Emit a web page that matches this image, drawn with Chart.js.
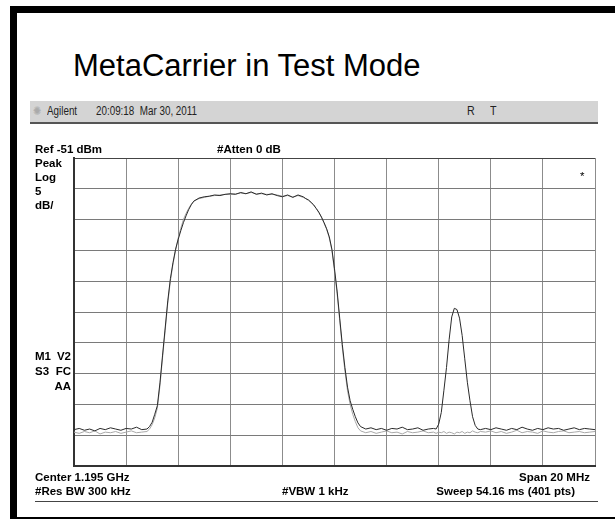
<!DOCTYPE html>
<html>
<head>
<meta charset="utf-8">
<script src="https://cdn.jsdelivr.net/npm/chart.js@4"></script>
<style>
  html, body { margin: 0; padding: 0; background: #fff; }
  #page { position: relative; width: 615px; height: 519px; overflow: hidden; }
  #frame { position: absolute; left: 10px; top: 6px; width: 620px; height: 504px;
           border-left: 7px solid #000; border-top: 7px solid #000; border-bottom: 3px solid #000; }
  #chart { position: absolute; left: 0; top: 0; }
  .t { position: absolute; white-space: nowrap; color: #000; }
  .lbl { font-family: "Liberation Sans", Arial, sans-serif; font-weight: bold; font-size: 11.5px; line-height: 13px; }
  #title { left: 73px; top: 48px; font-family: "Liberation Sans", Arial, sans-serif; font-size: 31px; line-height: 36px; }
  #bar { position: absolute; left: 30px; top: 101px; width: 568px; height: 21px; background: #d4d4d4;
         border-bottom: 2px solid #555; }
  .hdr { font-family: "Liberation Sans", Arial, sans-serif; font-size: 12px; line-height: 12px; color: #222;
         transform: scaleX(0.82); transform-origin: left top; }
  #foot { position: absolute; left: 35px; top: 501px; width: 563px; height: 0; border-top: 1px solid #444; }
</style>
</head>
<body>
<div id="page">
  <div id="frame"></div>
  <div class="t" id="title">MetaCarrier in Test Mode</div>
  <div id="bar"></div>
  <div class="t hdr" style="left:33px; top:105px; color:#aaa;">✺</div>
  <div class="t hdr" style="left:47px; top:105px;">Agilent</div>
  <div class="t hdr" style="left:96px; top:105px;">20:09:18&nbsp; Mar 30, 2011</div>
  <div class="t hdr" style="left:467px; top:105px; font-size:13px;">R</div>
  <div class="t hdr" style="left:490px; top:105px; font-size:13px;">T</div>
  <canvas id="chart" width="615" height="519"></canvas>
  <div class="t lbl" style="left:35px; top:143px;">Ref -51 dBm</div>
  <div class="t lbl" style="left:217px; top:143px;">#Atten 0 dB</div>
  <div class="t lbl" style="left:35px; top:157px;">Peak</div>
  <div class="t lbl" style="left:35px; top:171px;">Log</div>
  <div class="t lbl" style="left:35px; top:185px;">5</div>
  <div class="t lbl" style="left:35px; top:199px;">dB/</div>
  <div class="t lbl" style="left:580px; top:170px; font-weight:normal;">*</div>
  <div class="t lbl" style="left:35px; top:350px;">M1</div>
  <div class="t lbl" style="right:544px; top:350px;">V2</div>
  <div class="t lbl" style="left:35px; top:365px;">S3</div>
  <div class="t lbl" style="right:544px; top:365px;">FC</div>
  <div class="t lbl" style="right:544px; top:380px;">AA</div>
  <div class="t lbl" style="left:35px; top:471px;">Center 1.195 GHz</div>
  <div class="t lbl" style="right:25px; top:471px;">Span 20 MHz</div>
  <div class="t lbl" style="left:35px; top:485px;">#Res BW 300 kHz</div>
  <div class="t lbl" style="left:282px; top:485px;">#VBW 1 kHz</div>
  <div class="t lbl" style="right:40px; top:485px;">Sweep 54.16 ms (401 pts)</div>
  <div id="foot"></div>
</div>
<script>
// frequency points (MHz), span 1185..1205
const freq = [
  1185.0,1185.2,1185.4,1185.6,1185.8,1186.0,1186.2,1186.4,1186.6,1186.8,1187.0,1187.2,1187.4,1187.6,1187.8,
  1187.9,1188.0,1188.1,1188.2,1188.3,1188.4,1188.5,1188.6,1188.7,1188.8,1188.9,1189.0,1189.1,1189.2,1189.3,1189.4,1189.5,1189.6,1189.8,
  1190.0,1190.2,1190.4,1190.6,1190.8,1191.0,1191.2,1191.4,1191.6,1191.8,1192.0,1192.2,1192.4,1192.6,1192.8,1193.0,1193.2,1193.4,1193.6,
  1193.8,1193.9,1194.0,1194.1,1194.2,1194.3,1194.4,1194.5,1194.6,1194.7,1194.8,1194.9,1195.0,1195.1,1195.2,1195.3,1195.4,1195.5,1195.6,1195.7,1195.8,1195.9,1196.0,
  1196.2,1196.4,1196.6,1196.8,1197.0,1197.2,1197.4,1197.6,1197.8,1198.0,1198.2,1198.4,1198.6,1198.8,
  1198.9,1199.0,1199.1,1199.2,1199.3,1199.4,1199.5,1199.6,1199.7,1199.8,1199.9,1200.0,1200.1,1200.2,1200.3,1200.4,1200.5,1200.6,
  1200.8,1201.0,1201.2,1201.4,1201.6,1201.8,1202.0,1202.2,1202.4,1202.6,1202.8,1203.0,1203.2,1203.4,1203.6,1203.8,1204.0,1204.2,1204.4,1204.6,1204.8,1205.0
];

// trace 1 (dark, dBm)
const trace1 = [
  -95.1,-94.9,-95.2,-95.0,-95.3,-94.9,-95.1,-94.8,-95.0,-95.2,-94.9,-95.0,-94.7,-95.1,-95.0,
  -94.6,-93.9,-92.6,-91.2,-87.5,-83.0,-78.6,-74.2,-70.6,-68.0,-65.8,-64.2,-62.8,-61.5,-60.4,-59.4,-58.6,-58.0,-57.5,
  -57.3,-57.2,-57.0,-57.1,-56.9,-56.8,-56.9,-56.6,-56.8,-56.5,-56.9,-56.7,-57.0,-56.8,-57.1,-57.3,-57.0,-57.4,-57.0,
  -57.3,-57.6,-57.8,-58.2,-58.6,-59.2,-59.8,-60.6,-61.5,-62.5,-63.8,-65.8,-69.0,-72.6,-77.0,-81.3,-85.0,-88.2,-90.4,-91.8,-93.0,-94.0,-94.6,
  -95.0,-94.8,-95.1,-94.9,-95.2,-94.9,-95.0,-94.7,-95.1,-95.0,-94.8,-95.2,-95.0,-94.9,
  -95.0,-94.2,-92.3,-88.7,-85.0,-80.5,-76.8,-75.4,-75.6,-77.0,-79.8,-83.6,-87.4,-90.4,-93.0,-94.4,-95.0,-95.1,
  -94.9,-95.1,-94.8,-95.0,-95.2,-94.9,-95.1,-94.7,-95.0,-95.2,-94.9,-95.1,-94.8,-95.0,-94.9,-95.2,-95.0,-94.8,-95.1,-94.9,-95.0,-95.1
];

// trace 2 (light grey, dBm)
const trace2 = [
  -95.5,-95.7,-95.4,-95.6,-95.3,-95.8,-95.5,-95.6,-95.4,-95.7,-95.5,-95.3,-95.6,-95.5,-95.4,
  -95.0,-94.3,-93.2,-91.6,-88.0,-83.4,-79.0,-74.6,-71.0,-68.2,-66.0,-64.0,-62.4,-61.0,-60.0,-59.2,-58.5,-58.0,-57.6,
  -57.4,-57.2,-57.1,-57.0,-56.9,-56.9,-56.8,-56.7,-56.8,-56.6,-56.8,-56.8,-56.9,-56.9,-57.0,-57.2,-57.1,-57.3,-57.1,
  -57.4,-57.6,-57.9,-58.2,-58.7,-59.2,-59.9,-60.6,-61.6,-62.6,-64.0,-66.0,-69.4,-73.0,-77.4,-81.8,-85.6,-88.8,-91.0,-92.6,-93.8,-94.8,-95.3,
  -95.6,-95.4,-95.7,-95.5,-95.3,-95.6,-95.5,-95.8,-95.4,-95.6,-95.5,-95.3,-95.6,-95.5,
  -95.7,-95.5,-95.6,-95.4,-95.7,-95.5,-95.6,-95.8,-95.5,-95.6,-95.4,-95.7,-95.5,-95.6,-95.3,-95.5,-95.6,-95.4,
  -95.5,-95.3,-95.6,-95.4,-95.7,-95.5,-95.2,-95.6,-95.4,-95.5,-95.7,-95.3,-95.5,-95.6,-95.4,-95.3,-95.6,-95.5,-95.4,-95.6,-95.5,-95.4
];

const xTicks = { min: 1185, max: 1205, step: 2 };   // 10 divisions
const yTicks = { min: -101, max: -51, step: 5 };    // ref -51 dBm, 5 dB/div

const pts = ys => freq.map((f, i) => ({ x: f, y: ys[i] }));

new Chart(document.getElementById('chart'), {
  type: 'line',
  data: {
    datasets: [
      { data: pts(trace1), borderColor: '#2a2a2a', borderWidth: 1, pointRadius: 0, tension: 0 },
      { data: pts(trace2), borderColor: '#a8a8a8', borderWidth: 1, pointRadius: 0, tension: 0 }
    ]
  },
  options: {
    responsive: false,
    animation: false,
    events: [],
    layout: { padding: { left: 74, top: 158, right: 20, bottom: 53 } },
    plugins: { legend: { display: false }, tooltip: { enabled: false } },
    scales: {
      x: {
        type: 'linear', min: xTicks.min, max: xTicks.max,
        ticks: { display: false, stepSize: xTicks.step },
        grid: { color: '#8c8c8c', lineWidth: 1, drawTicks: false },
        border: { color: '#333', width: 2 }
      },
      y: {
        min: yTicks.min, max: yTicks.max,
        ticks: { display: false, stepSize: yTicks.step },
        grid: { color: c => c.tick && c.tick.value === yTicks.max ? '#444' : '#7a7a7a', lineWidth: 1, drawTicks: false },
        border: { color: '#333', width: 2 }
      }
    }
  }
});
</script>
</body>
</html>
